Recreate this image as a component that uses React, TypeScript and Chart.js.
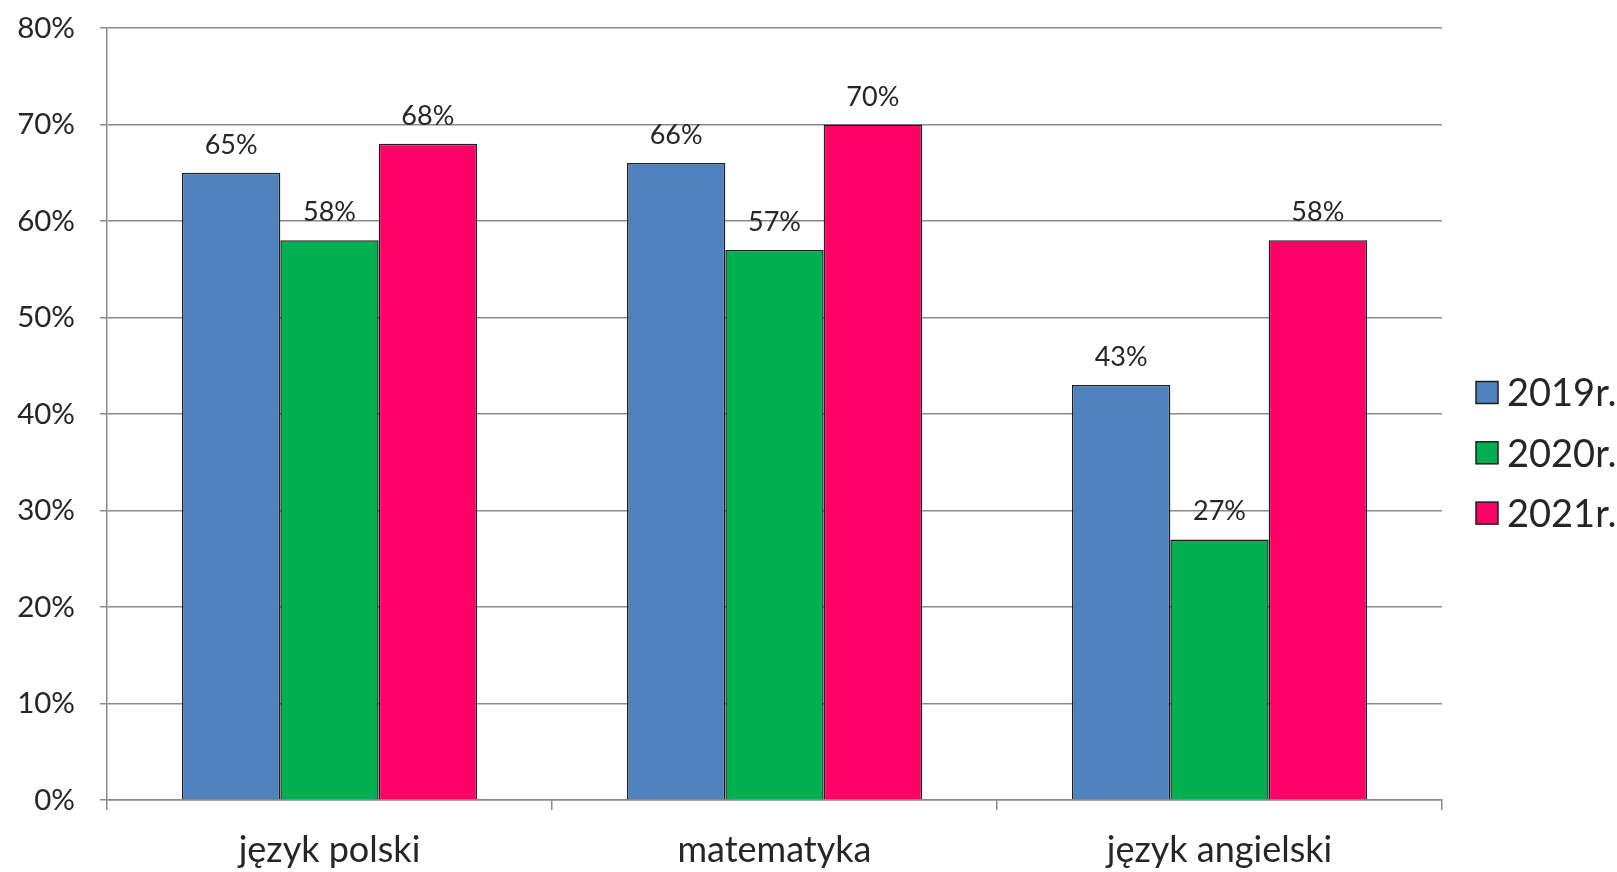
import React, { useEffect, useRef } from "react";
import { Chart, registerables } from "chart.js";

Chart.register(...registerables);

const categories = ["język polski", "matematyka", "język angielski"];
const seriesLabels = ["2019r.", "2020r.", "2021r."];
const values2019 = [65, 66, 43];
const values2020 = [58, 57, 27];
const values2021 = [68, 70, 58];
const seriesColors = ["#4F81BD", "#00B050", "#FF0066"];
const yMin = 0;
const yMax = 80;
const yStep = 10;

const FONT = "Lato, 'Open Sans', sans-serif";
const GRID = "#8a8a8a";
const TEXT = "#262626";

const dataLabelPlugin = {
  id: "dataLabels",
  afterDatasetsDraw(chart: any) {
    const ctx = chart.ctx;
    ctx.save();
    ctx.font = `27px ${FONT}`;
    ctx.fillStyle = TEXT;
    ctx.textAlign = "center";
    ctx.textBaseline = "alphabetic";
    chart.data.datasets.forEach((ds: any, i: number) => {
      const meta = chart.getDatasetMeta(i);
      meta.data.forEach((el: any, j: number) => {
        ctx.fillText(ds.data[j] + "%", el.x, el.y - 19);
      });
    });
    ctx.restore();
  },
};

const legendPlugin = {
  id: "customLegend",
  afterDraw(chart: any) {
    const ctx = chart.ctx;
    const area = chart.chartArea;
    ctx.save();
    ctx.font = `38px ${FONT}`;
    ctx.textBaseline = "middle";
    ctx.textAlign = "left";
    const x0 = area.right + 34;
    const yStart = area.top + (area.bottom - area.top) / 2 - 21;
    chart.data.datasets.forEach((ds: any, i: number) => {
      const cy = yStart + i * 60.3;
      ctx.fillStyle = ds.backgroundColor;
      ctx.fillRect(x0, cy - 11.5, 22, 22);
      ctx.strokeStyle = "#1f1f1f";
      ctx.lineWidth = 1.5;
      ctx.strokeRect(x0, cy - 11.5, 22, 22);
      ctx.fillStyle = TEXT;
      ctx.fillText(ds.label, x0 + 31, cy + 1);
    });
    ctx.restore();
  },
};

export default function App() {
  const ref = useRef<HTMLCanvasElement | null>(null);

  useEffect(() => {
    document.body.style.margin = "0";
    document.body.style.background = "#ffffff";
    const canvas = ref.current;
    if (!canvas) return;
    const allValues = [values2019, values2020, values2021];
    const chart = new Chart(canvas, {
      type: "bar",
      data: {
        labels: categories,
        datasets: seriesLabels.map((label, i) => ({
          label,
          data: allValues[i],
          backgroundColor: seriesColors[i],
          borderColor: "#1f1f1f",
          borderWidth: 1.5,
          categoryPercentage: 0.663,
          barPercentage: 1.0,
        })),
      },
      options: {
        animation: false,
        responsive: false,
        devicePixelRatio: 1,
        layout: { padding: { top: 28, right: 175, left: 0, bottom: 0 } },
        plugins: {
          legend: { display: false },
          tooltip: { enabled: false },
        },
        scales: {
          x: {
            offset: true,
            grid: {
              drawOnChartArea: false,
              color: GRID,
              lineWidth: 1.5,
              tickLength: 10,
              offset: true,
            },
            border: { color: GRID, width: 1.5 },
            ticks: {
              font: { family: FONT, size: 36 },
              color: TEXT,
              padding: 19,
            },
            afterFit(scale: any) {
              scale.height = 72;
              scale.paddingLeft = 0;
              scale.paddingRight = 0;
            },
          },
          y: {
            min: yMin,
            max: yMax,
            ticks: {
              stepSize: yStep,
              callback: (v: any) => v + "%",
              font: { family: FONT, size: 29.5 },
              color: TEXT,
              padding: 25,
            },
            grid: {
              color: GRID,
              lineWidth: 1.5,
              tickLength: 7,
            },
            border: { color: GRID, width: 1.5 },
            afterFit(scale: any) {
              scale.width = 107;
              scale.paddingTop = 0;
              scale.paddingBottom = 0;
            },
          },
        },
      },
      plugins: [dataLabelPlugin, legendPlugin],
    });
    return () => chart.destroy();
  }, []);

  return (
    <div style={{ width: 1617, height: 872, position: "relative" }}>
      <canvas ref={ref} width={1617} height={872} style={{ width: 1617, height: 872, display: "block" }} />
    </div>
  );
}
